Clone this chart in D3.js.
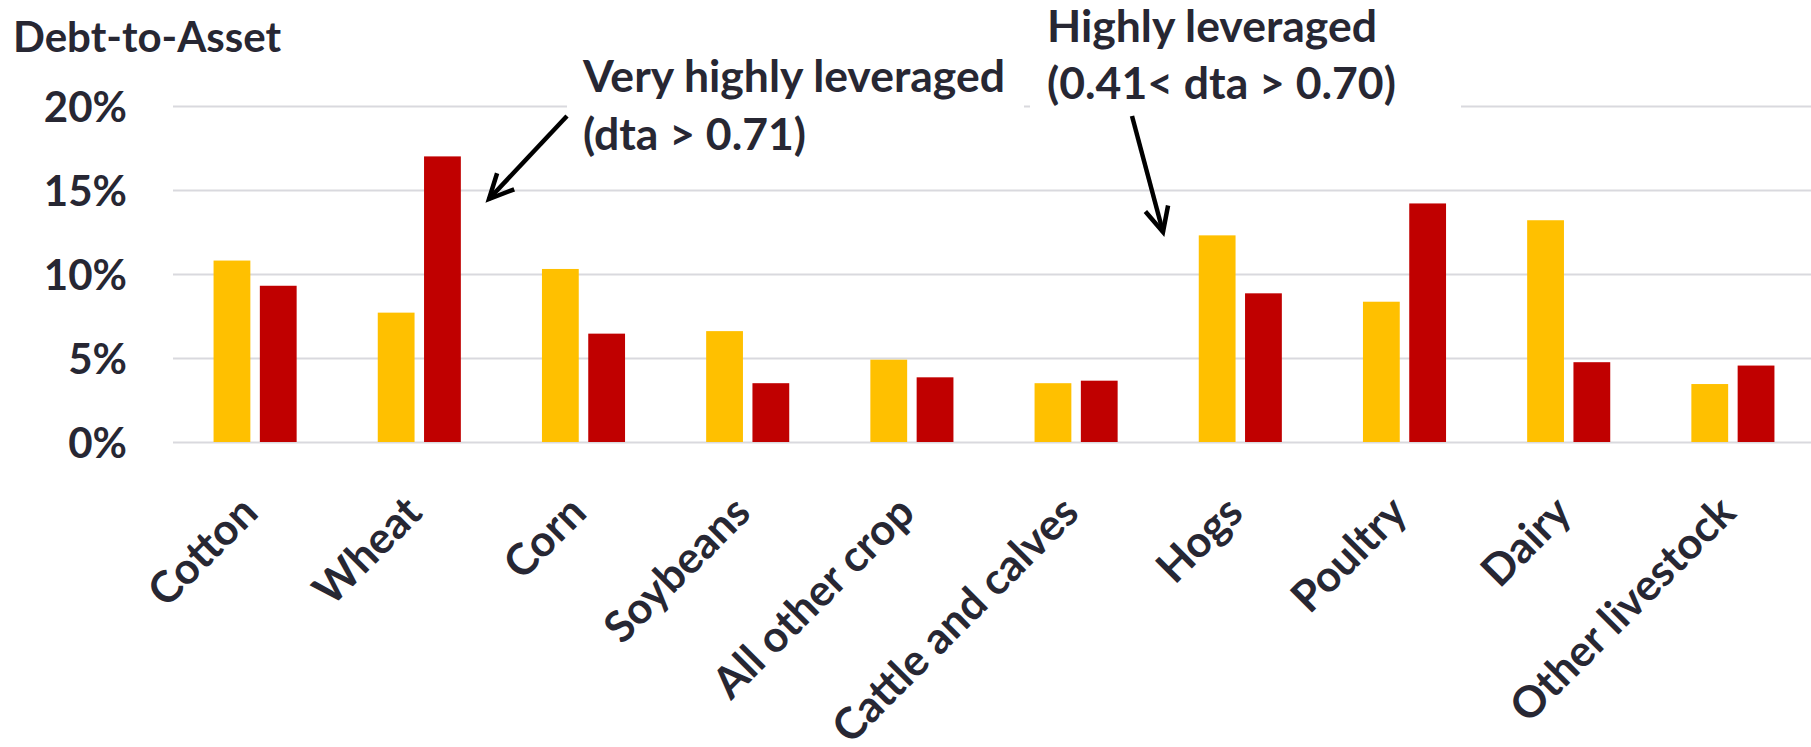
<!DOCTYPE html>
<html>
<head>
<meta charset="utf-8">
<script src="https://cdn.jsdelivr.net/npm/d3@7"></script>
<style>
  html, body { margin: 0; padding: 0; background: #ffffff; }
  svg { display: block; }
  text { font-family: "Lato", sans-serif; font-weight: bold; fill: #272733; }
</style>
</head>
<body>
<svg id="chart" width="1811" height="747"></svg>
<script>
const categories = ["Cotton", "Wheat", "Corn", "Soybeans", "All other crop", "Cattle and calves", "Hogs", "Poultry", "Dairy", "Other livestock"];
const seriesNames = ["Highly leveraged", "Very highly leveraged"];
const highlyLeveraged = [10.8, 7.7, 10.3, 6.6, 4.9, 3.5, 12.3, 8.35, 13.2, 3.45];
const veryHighlyLeveraged = [9.3, 17.0, 6.45, 3.5, 3.85, 3.65, 8.85, 14.2, 4.75, 4.55];
const seriesColors = ["#FFC000", "#C00000"];
const yTicks = [0, 5, 10, 15, 20];
const yTitle = "Debt-to-Asset";
const note1 = ["Very highly leveraged", "(dta > 0.71)"];
const note2 = ["Highly leveraged", "(0.41< dta > 0.70)"];

(function () {
const svg = d3.select("#chart");
const mLeft = 173, mRight = 1815, mTop = 106, mBottom = 442;

const x0 = d3.scaleBand().domain(categories).range([mLeft, mRight]).paddingInner(0.494).paddingOuter(0.247);
const x1 = d3.scaleBand().domain(seriesNames).range([0, x0.bandwidth()]).paddingInner(0.205);
const y = d3.scaleLinear().domain([0, 20]).range([mBottom, mTop]);

// gridlines + tick labels
const yAxis = d3.axisLeft(y).tickValues(yTicks).tickSize(-(1811 - mLeft)).tickFormat(d => d + "%");
const gAxis = svg.append("g").attr("transform", `translate(${mLeft},0)`).call(yAxis);
gAxis.select(".domain").remove();
gAxis.selectAll(".tick line").attr("stroke", "#d9d9de").attr("stroke-width", 2.2);
gAxis.selectAll(".tick text")
  .attr("x", -46).attr("dy", "0.36em")
  .style("font-size", "42px").style("text-anchor", "end").attr("fill", "#272733");

// bars
const data = categories.map((c, i) => ({ cat: c, vals: [highlyLeveraged[i], veryHighlyLeveraged[i]] }));
const groups = svg.append("g").selectAll("g").data(data).join("g")
  .attr("transform", d => `translate(${x0(d.cat)},0)`);
groups.selectAll("rect").data(d => d.vals.map((v, j) => ({ s: seriesNames[j], v, j })))
  .join("rect")
  .attr("x", d => x1(d.s))
  .attr("width", x1.bandwidth())
  .attr("y", d => y(d.v))
  .attr("height", d => y(0) - y(d.v))
  .attr("fill", d => seriesColors[d.j]);

// x labels
svg.append("g").selectAll("text").data(categories).join("text")
  .attr("transform", d => `translate(${x0(d) + x0.bandwidth() / 2 + 5},515) rotate(-45)`)
  .style("text-anchor", "end")
  .style("font-size", "43.5px")
  .text(d => d);

// title
svg.append("text").attr("x", 13).attr("y", 52).style("font-size", "42px").text(yTitle);

// annotation boxes (white background masking gridline)
svg.append("rect").attr("x", 567).attr("y", 55).attr("width", 457).attr("height", 128).attr("fill", "#fff");
svg.append("rect").attr("x", 1030).attr("y", 0).attr("width", 431).attr("height", 160).attr("fill", "#fff");

const t1 = svg.append("text").style("font-size", "44.5px");
note1.forEach((s, i) => t1.append("tspan").attr("x", 583).attr("y", 92 + i * 58).text(s));
const t2 = svg.append("text").style("font-size", "44.5px");
note2.forEach((s, i) => t2.append("tspan").attr("x", 1047).attr("y", 42 + i * 57).text(s));

// arrows
function arrow(xa, ya, xb, yb) {
  const g = svg.append("g").attr("stroke", "#000").attr("stroke-width", 4.5).attr("fill", "none");
  g.append("line").attr("x1", xa).attr("y1", ya).attr("x2", xb).attr("y2", yb);
  const ang = Math.atan2(yb - ya, xb - xa);
  const L = 27, spread = 0.45;
  const p1 = [xb - L * Math.cos(ang - spread), yb - L * Math.sin(ang - spread)];
  const p2 = [xb - L * Math.cos(ang + spread), yb - L * Math.sin(ang + spread)];
  g.append("path").attr("d", `M${p1[0]},${p1[1]} L${xb},${yb} L${p2[0]},${p2[1]}`);
}
arrow(567, 116, 489, 199);
arrow(1132, 116, 1163, 232);
})();
</script>
</body>
</html>
